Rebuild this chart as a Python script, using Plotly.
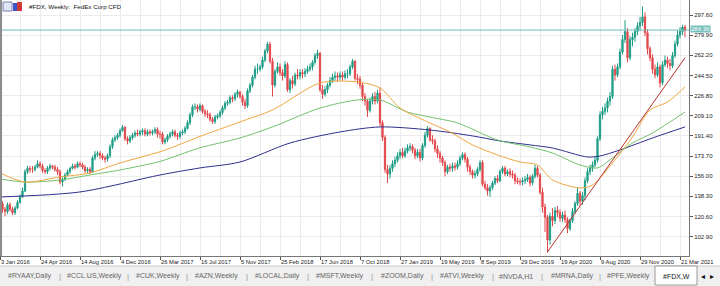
import pandas as pd
import plotly.graph_objects as go

# ---------------- data (weekly) ----------------
FIRST_OPEN = 139
CLOSE_2016 = [132, 127, 125, 131, 127, 124, 128, 133, 138, 143, 160, 163, 162,
              162, 164, 167, 165, 161, 160, 163, 165, 164, 162, 160, 151, 153,
              157, 160, 163, 165, 164, 167, 166, 164, 161, 162, 160, 172, 175,
              176, 174, 172, 171, 174, 182, 188, 190, 192, 196, 199, 189, 187]
HIGH_2016 = [141, 134, 129, 133, 133, 129, 130, 135, 140, 146, 162, 165, 165,
             165, 166, 170, 169, 167, 163, 165, 167, 166, 166, 164, 162, 155,
             159, 162, 164, 167, 167, 169, 169, 168, 166, 164, 164, 174, 178,
             178, 178, 176, 174, 176, 184, 190, 192, 194, 198, 201, 200, 191]
LOW_2016 = [130, 124, 121, 123, 125, 122, 122, 127, 132, 137, 142, 158, 159,
            159, 160, 163, 163, 159, 158, 158, 161, 162, 160, 157, 149, 147,
            152, 156, 158, 162, 162, 163, 164, 162, 159, 159, 158, 159, 170,
            173, 171, 170, 168, 169, 172, 180, 186, 188, 190, 195, 187, 184]

CLOSE_2017 = [190, 192, 194, 193, 195, 196, 193, 195, 194, 195, 197, 193, 193,
              186, 188, 191, 193, 195, 192, 191, 194, 195, 198, 203, 210, 217,
              217, 215, 218, 213, 211, 210, 206, 204, 208, 209, 212, 216, 220,
              221, 225, 224, 228, 230, 226, 221, 218, 231, 236, 243, 250, 250, 252]
HIGH_2017 = [192, 194, 196, 197, 197, 198, 198, 197, 197, 197, 199, 199, 196,
             195, 190, 193, 195, 197, 197, 194, 196, 197, 200, 205, 212, 219,
             220, 219, 220, 219, 215, 214, 212, 208, 210, 211, 214, 218, 222,
             223, 227, 227, 230, 232, 231, 228, 224, 233, 238, 245, 253, 255, 254]
LOW_2017 = [185, 188, 190, 191, 191, 192, 191, 191, 192, 192, 193, 190, 189,
            184, 184, 186, 189, 191, 190, 188, 189, 192, 193, 197, 201, 208,
            214, 212, 213, 211, 208, 207, 204, 202, 202, 206, 207, 210, 214,
            218, 219, 221, 222, 225, 224, 218, 215, 216, 229, 234, 241, 246, 248]

CLOSE_2018 = [258, 266, 272, 257, 236, 248, 252, 247, 244, 254, 232, 240,
              237, 245, 244, 247, 246, 248, 250, 252, 256, 262, 264, 232, 228,
              232, 236, 240, 243, 244, 243, 245, 243, 246, 246, 252, 257, 242,
              241, 236, 226, 222, 214, 222, 226, 222, 229, 203, 190, 162, 158, 163]
HIGH_2018 = [261, 268, 274, 274, 260, 250, 256, 255, 250, 257, 256, 242,
             244, 247, 250, 250, 250, 251, 253, 255, 258, 264, 267, 265, 236,
             235, 238, 243, 246, 248, 247, 248, 248, 249, 250, 254, 259, 258,
             246, 244, 238, 229, 224, 225, 229, 230, 232, 234, 205, 192, 166, 166]
LOW_2018 = [250, 256, 264, 255, 226, 234, 246, 244, 240, 242, 230, 229,
            233, 235, 241, 241, 242, 243, 246, 248, 249, 254, 259, 230, 224,
            226, 229, 234, 238, 240, 239, 240, 240, 241, 242, 244, 250, 240,
            237, 233, 222, 218, 208, 212, 219, 219, 220, 200, 187, 159, 150, 154]

CLOSE_2019 = [167, 170, 174, 177, 174, 178, 181, 182, 179, 174, 177, 172, 183,
              192, 198, 188, 187, 180, 176, 172, 168, 160, 164, 163, 165, 164,
              167, 172, 175, 171, 164, 160, 157, 158, 162, 168, 149, 146, 143,
              146, 150, 154, 152, 160, 163, 158, 160, 158, 157, 152, 151, 151]
HIGH_2019 = [170, 173, 177, 180, 181, 181, 184, 185, 184, 181, 180, 180, 185,
             195, 200, 199, 192, 189, 183, 178, 174, 170, 166, 167, 168, 168,
             170, 174, 177, 177, 173, 166, 162, 161, 164, 170, 170, 152, 149,
             148, 152, 156, 157, 162, 165, 165, 162, 163, 161, 159, 155, 154]
LOW_2019 = [160, 164, 168, 171, 172, 172, 176, 178, 176, 171, 172, 169, 170,
            181, 190, 186, 184, 177, 172, 168, 165, 156, 158, 160, 160, 161,
            162, 165, 170, 168, 160, 157, 154, 154, 156, 160, 147, 144, 139,
            138, 144, 148, 150, 151, 158, 156, 156, 155, 154, 149, 149, 148]

CLOSE_2020 = [152, 153, 155, 150, 156, 163, 157, 142, 129, 120, 100, 121, 117,
              126, 124, 119, 122, 118, 110, 117, 125, 132, 141, 134, 139, 152,
              160, 163, 166, 170, 189, 210, 213, 216, 222, 226, 250, 245, 252,
              265, 276, 283, 260, 276, 278, 283, 288, 291, 296, 282, 268, 260]
HIGH_2020 = [155, 156, 158, 157, 158, 166, 165, 159, 146, 132, 122, 124, 128,
             129, 130, 127, 125, 126, 120, 119, 128, 134, 146, 143, 142, 155,
             163, 166, 169, 173, 191, 213, 217, 220, 225, 230, 253, 254, 255,
             268, 280, 293, 286, 279, 282, 286, 291, 296, 305, 300, 285, 270]
LOW_2020 = [148, 149, 151, 147, 148, 154, 155, 140, 124, 107, 89, 96, 112,
            114, 120, 116, 116, 115, 106, 108, 115, 123, 130, 130, 131, 135,
            150, 157, 160, 164, 168, 187, 206, 210, 212, 218, 224, 240, 243,
            250, 263, 273, 256, 258, 270, 274, 280, 284, 288, 279, 263, 257]

CLOSE_2021 = [250, 245, 252, 238, 254, 258, 255, 253, 262, 272, 280, 283, 287, 284.36]
HIGH_2021 = [263, 254, 256, 254, 257, 262, 261, 259, 265, 275, 284, 287, 289, 289]
LOW_2021 = [246, 242, 243, 234, 236, 252, 251, 249, 251, 260, 270, 277, 280, 278]

# moving averages (week index -> price)
ORANGE_WEEKS = [0, 10, 24, 36, 48, 64, 72, 80, 96, 109, 128, 143, 152, 160, 171,
                180, 189, 199, 208, 215, 221, 232, 237, 245, 253, 260, 267, 274]
ORANGE_MA = [158.9, 150.9, 155.4, 158.9, 167.7, 177.5, 184.0, 191.0, 203.7, 214.2,
             237.9, 238.8, 233.5, 216.0, 203.7, 194.9, 183.5, 174.7, 168.5, 165.9,
             152.7, 145.7, 148.3, 167.7, 190.5, 214.2, 221.2, 234.4]
GREEN_WEEKS = [0, 10, 24, 36, 48, 64, 72, 80, 96, 109, 128, 143, 152, 163, 172,
               183, 199, 212, 221, 232, 239, 245, 253, 261, 274]
GREEN_MA = [153.6, 150.9, 152.7, 157.1, 161.5, 169.0, 175.0, 181.0, 189.6, 199.3,
            215.9, 223.0, 223.0, 212.4, 208.0, 202.8, 187.8, 181.7, 176.4, 165.9,
            163.3, 172.1, 185.2, 194.0, 212.4]
BLUE_WEEKS = [0, 32, 64, 80, 96, 116, 136, 152, 172, 189, 200, 212, 221, 235,
              240, 248, 261, 274]
BLUE_MA = [137.8, 142.2, 157.1, 163.3, 168.5, 185.2, 194.9, 199.3, 196.6, 191.4,
           187.0, 183.5, 180.8, 172.9, 173.8, 179.1, 189.6, 199.3]
TREND_WEEKS = [219, 274]
TREND_VALUES = [89.5, 260.0]

LAST_PRICE = 284.36
PRICE_TICKS = [102.90, 120.60, 138.30, 156.00, 173.70, 191.40, 209.10, 226.80,
               244.50, 262.20, 279.90, 297.60]
TABS = ["#RYAAY,Daily", "#CCL.US,Weekly", "#CUK,Weekly", "#AZN,Weekly",
        "#LOCAL,Daily", "#MSFT,Weekly", "#ZOOM,Daily", "#ATVI,Weekly",
        "#NVDA,H1", "#MRNA,Daily", "#PFE,Weekly"]
ACTIVE_TAB = "#FDX,W"
TITLE = "#FDX, Weekly:  FedEx Corp CFD"

# ---------------- build ----------------
CLOSE = CLOSE_2016 + CLOSE_2017 + CLOSE_2018 + CLOSE_2019 + CLOSE_2020 + CLOSE_2021
HIGH = HIGH_2016 + HIGH_2017 + HIGH_2018 + HIGH_2019 + HIGH_2020 + HIGH_2021
LOW = LOW_2016 + LOW_2017 + LOW_2018 + LOW_2019 + LOW_2020 + LOW_2021
OPEN = [FIRST_OPEN] + CLOSE[:-1]

start = pd.Timestamp("2016-01-03")
def wk(i):
    return start + pd.Timedelta(days=7 * i)

dates = [wk(i) for i in range(len(CLOSE))]

UP = "#1e9d86"
DOWN = "#e2474b"

fig = go.Figure()
fig.add_trace(go.Candlestick(
    x=dates, open=OPEN, high=HIGH, low=LOW, close=CLOSE,
    increasing=dict(line=dict(color=UP, width=1), fillcolor=UP),
    decreasing=dict(line=dict(color=DOWN, width=1), fillcolor=DOWN),
    whiskerwidth=0, hoverinfo="skip"))

for weeks, vals, col in [(BLUE_WEEKS, BLUE_MA, "#2f2f8f"),
                         (GREEN_WEEKS, GREEN_MA, "#72c26e"),
                         (ORANGE_WEEKS, ORANGE_MA, "#f0a640")]:
    fig.add_trace(go.Scatter(x=[wk(i) for i in weeks], y=vals, mode="lines",
                             line=dict(color=col, width=1, shape="spline", smoothing=0.8),
                             hoverinfo="skip"))
fig.add_trace(go.Scatter(x=[wk(i) for i in TREND_WEEKS], y=TREND_VALUES, mode="lines",
                         line=dict(color="#b8322e", width=1), hoverinfo="skip"))

W, H = 720, 286
ML, MR, MT, MB = 0, 31, 0, 30
PW, PH = W - ML - MR, H - MT - MB
PX = 2.5  # pixels per week
x0 = start
x1 = start + pd.Timedelta(days=7 * (PW / PX))

ppx = 0.8782
y1 = 297.6 + 15 * ppx
y0 = y1 - PH * ppx

def px_x(X):
    return (X - ML) / PW
def px_y(Y):
    return (PH - (Y - MT)) / PH

tick_dates = [wk(16 * k) for k in range(18)]
FONT = "Liberation Sans"

fig.update_layout(
    width=W, height=H, margin=dict(l=ML, r=MR, t=MT, b=MB),
    paper_bgcolor="white", plot_bgcolor="white", showlegend=False,
    hovermode=False,
    font=dict(family=FONT, size=7, color="#222"),
    xaxis=dict(type="date", range=[x0, x1], rangeslider=dict(visible=False),
               tickvals=tick_dates, tickformat="%-d %b %Y", tickangle=0,
               ticklabelposition="outside right", ticks="outside", ticklen=3,
               tickcolor="#555", tickfont=dict(size=5.8, color="#222", family=FONT),
               showgrid=True, gridcolor="#ececec", gridwidth=1,
               minor=dict(dtick=7 * 8 * 86400000, tick0=start, showgrid=True, gridcolor="#ececec"),
               showline=True, linecolor="#777", linewidth=1, mirror=False, zeroline=False,
               fixedrange=True),
    yaxis=dict(side="right", range=[y0, y1], tickvals=PRICE_TICKS,
               ticktext=[f"{v:.2f}" for v in PRICE_TICKS],
               ticks="outside", ticklen=3, tickcolor="#555",
               tickfont=dict(size=6, color="#222", family=FONT),
               showgrid=True, gridcolor="#ececec", gridwidth=1,
               showline=True, linecolor="#777", linewidth=1, zeroline=False,
               fixedrange=True),
)

shapes = []
# current price line
shapes.append(dict(type="line", xref="paper", yref="y", x0=0, x1=1, y0=LAST_PRICE,
                   y1=LAST_PRICE, line=dict(color="#6fbdb8", width=1)))
# left window frame
shapes.append(dict(type="line", xref="paper", yref="paper", x0=0.0015, x1=0.0015,
                   y0=0, y1=1, line=dict(color="#8a8a8a", width=2)))
# tab bar
shapes.append(dict(type="rect", xref="paper", yref="paper", x0=px_x(0), x1=px_x(W),
                   y0=px_y(286), y1=px_y(266), fillcolor="#f0f0f0",
                   line=dict(width=0), layer="below"))
shapes.append(dict(type="line", xref="paper", yref="paper", x0=px_x(0), x1=px_x(W),
                   y0=px_y(266), y1=px_y(266), line=dict(color="#c8c8c8", width=1)))
shapes.append(dict(type="rect", xref="paper", yref="paper", x0=px_x(655), x1=px_x(697),
                   y0=px_y(285), y1=px_y(266), fillcolor="white",
                   line=dict(color="#9a9a9a", width=1)))
# title icon
shapes.append(dict(type="rect", xref="paper", yref="paper", x0=px_x(3), x1=px_x(12),
                   y0=px_y(11), y1=px_y(2), fillcolor="#dfe6f5",
                   line=dict(color="#7f7fb0", width=1)))
shapes.append(dict(type="rect", xref="paper", yref="paper", x0=px_x(13), x1=px_x(17),
                   y0=px_y(11), y1=px_y(3), fillcolor="#3a56c8", line=dict(width=0)))
shapes.append(dict(type="rect", xref="paper", yref="paper", x0=px_x(17), x1=px_x(22),
                   y0=px_y(11), y1=px_y(2), fillcolor="#d23a3a", line=dict(width=0)))
fig.update_layout(shapes=shapes)

ann = []
ann.append(dict(xref="paper", yref="paper", x=px_x(27), y=px_y(6.5), text=TITLE,
                showarrow=False, xanchor="left", yanchor="middle",
                font=dict(size=6.2, color="#111", family=FONT)))
ann.append(dict(xref="paper", yref="y", x=1, y=LAST_PRICE, text=f"{LAST_PRICE:.2f}",
                showarrow=False, xanchor="left", yanchor="middle", xshift=1, yshift=1,
                bgcolor="#74c0ba", borderpad=0,
                font=dict(size=6, color="white", family=FONT)))
tab_centers = [30, 94, 158, 216, 277, 339, 402, 462, 516, 572, 628]
seps = [60, 128, 187, 247, 308, 372, 432, 493, 542, 600]
for t, c in zip(TABS, tab_centers):
    ann.append(dict(xref="paper", yref="paper", x=px_x(c), y=px_y(276), text=t,
                    showarrow=False, xanchor="center", yanchor="middle",
                    font=dict(size=7, color="#666", family=FONT)))
for s in seps:
    ann.append(dict(xref="paper", yref="paper", x=px_x(s), y=px_y(276), text="|",
                    showarrow=False, xanchor="center", yanchor="middle",
                    font=dict(size=8, color="#999", family=FONT)))
ann.append(dict(xref="paper", yref="paper", x=px_x(676), y=px_y(276), text=ACTIVE_TAB,
                showarrow=False, xanchor="center", yanchor="middle",
                font=dict(size=7, color="#111", family=FONT)))
ann.append(dict(xref="paper", yref="paper", x=px_x(703), y=px_y(276), text="◂",
                showarrow=False, xanchor="center", yanchor="middle",
                font=dict(size=8, color="#111", family="DejaVu Sans")))
ann.append(dict(xref="paper", yref="paper", x=px_x(712), y=px_y(276), text="▸",
                showarrow=False, xanchor="center", yanchor="middle",
                font=dict(size=8, color="#111", family="DejaVu Sans")))
fig.update_layout(annotations=ann)

fig.write_html("out.html", config={"displayModeBar": False})
